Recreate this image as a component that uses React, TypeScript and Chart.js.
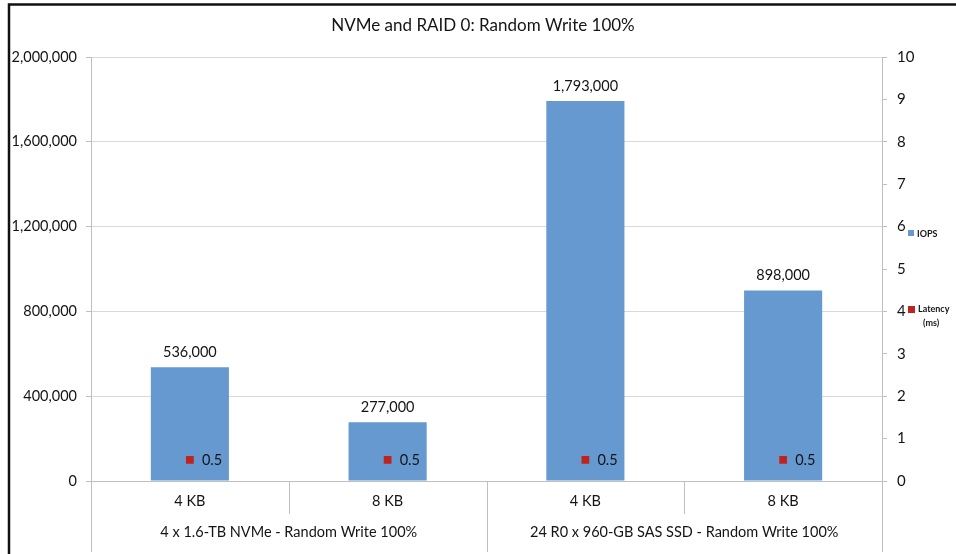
import React, { useEffect, useRef } from "react";
import { Chart, registerables } from "chart.js";

Chart.register(...registerables);

const titleText = "NVMe and RAID 0: Random Write 100%";
const blockSizes = ["4 KB", "8 KB", "4 KB", "8 KB"];
const groupLabels = ["4 x 1.6-TB NVMe - Random Write 100%", "24 R0 x 960-GB SAS SSD - Random Write 100%"];
const iopsValues = [536000, 277000, 1793000, 898000];
const latencyValues = [0.5, 0.5, 0.5, 0.5];
const iopsTicks = [0, 400000, 800000, 1200000, 1600000, 2000000];
const latencyTicks = [0, 1, 2, 3, 4, 5, 6, 7, 8, 9, 10];

const FONT = "Lato, 'Open Sans', sans-serif";
const TEXT = "#141414";
const BLUE = "#6699d0";
const RED = "#c0231e";
const AXIS = "#bfbfbf";

const fmt = (v: number) => v.toLocaleString("en-US");

const decorPlugin = {
  id: "decor",
  beforeDraw(chart: any) {
    const ctx = chart.ctx;
    ctx.save();
    ctx.fillStyle = "#fff";
    ctx.fillRect(0, 0, chart.width, chart.height);
    ctx.restore();
  },
  afterDraw(chart: any) {
    const ctx = chart.ctx;
    const area = chart.chartArea;
    ctx.save();
    // frame
    ctx.strokeStyle = "#111";
    ctx.lineWidth = 2.5;
    ctx.strokeRect(9, 4.5, 1000, 600);
    // title
    ctx.fillStyle = TEXT;
    ctx.font = `17px ${FONT}`;
    ctx.textAlign = "center";
    ctx.textBaseline = "middle";
    ctx.fillText(titleText, 483, 26);

    // category separators
    ctx.strokeStyle = AXIS;
    ctx.lineWidth = 1;
    const n = blockSizes.length;
    const step = (area.right - area.left) / n;
    for (let i = 0; i <= n; i++) {
      const x = Math.round(area.left + step * i) + 0.5;
      const long = i % 2 === 0;
      ctx.beginPath();
      ctx.moveTo(x, area.bottom);
      ctx.lineTo(x, long ? 552 : 514);
      ctx.stroke();
    }
    // group labels
    ctx.fillStyle = TEXT;
    ctx.font = `14.5px ${FONT}`;
    ctx.textAlign = "center";
    ctx.textBaseline = "middle";
    groupLabels.forEach((g, gi) => {
      const cx = area.left + step * (gi * 2 + 1);
      ctx.fillText(g, cx, 532);
    });

    // bar value labels
    const barMeta = chart.getDatasetMeta(0);
    ctx.font = `14.5px ${FONT}`;
    ctx.textBaseline = "middle";
    barMeta.data.forEach((el: any, i: number) => {
      ctx.fillText(fmt(iopsValues[i]), el.x, el.y - 15);
    });
    // latency labels
    const ptMeta = chart.getDatasetMeta(1);
    ctx.textAlign = "left";
    ctx.font = `14.5px ${FONT}`;
    ptMeta.data.forEach((el: any, i: number) => {
      ctx.fillText(String(latencyValues[i]), el.x + 12, el.y + 1);
    });

    // legend
    ctx.fillStyle = BLUE;
    ctx.fillRect(908, 230, 6, 6);
    ctx.fillStyle = RED;
    ctx.fillRect(908, 306, 7, 7);
    ctx.fillStyle = TEXT;
    ctx.font = `bold 9px ${FONT}`;
    ctx.textAlign = "left";
    ctx.fillText("IOPS", 917, 234);
    ctx.fillText("Latency", 918, 309);
    ctx.fillText("(ms)", 923, 323);
    ctx.restore();
  },
};

export default function App() {
  const ref = useRef<HTMLCanvasElement | null>(null);
  useEffect(() => {
    document.body.style.margin = "0";
    const canvas = ref.current!;
    const chart = new Chart(canvas, {
      type: "bar",
      data: {
        labels: blockSizes,
        datasets: [
          {
            type: "bar",
            label: "IOPS",
            data: iopsValues,
            backgroundColor: BLUE,
            yAxisID: "y",
            categoryPercentage: 1,
            barPercentage: 0.395,
            order: 2,
          },
          {
            type: "line",
            label: "Latency (ms)",
            data: latencyValues,
            yAxisID: "y1",
            showLine: false,
            pointStyle: "rect",
            pointRadius: 5.5,
            pointBackgroundColor: RED,
            pointBorderColor: RED,
            pointBorderWidth: 0,
            order: 1,
          } as any,
        ],
      },
      options: {
        responsive: false,
        animation: false,
        devicePixelRatio: 1,
        layout: { padding: { top: 57, left: 0, right: 0, bottom: 0 } },
        plugins: {
          legend: { display: false },
          tooltip: { enabled: false },
          title: { display: false },
        },
        scales: {
          x: {
            grid: { display: false, drawTicks: false },
            border: { display: true, color: AXIS },
            ticks: { color: TEXT, font: { family: FONT, size: 14.5 }, padding: 12, maxRotation: 0 },
            afterFit: (s: any) => { s.height = 73; },
          },
          y: {
            position: "left",
            min: 0,
            max: 2000000,
            afterBuildTicks: (s: any) => { s.ticks = iopsTicks.map((v) => ({ value: v })); },
            grid: { color: "#d9d9d9", tickLength: 5, tickColor: AXIS },
            border: { display: true, color: AXIS },
            ticks: {
              color: TEXT,
              font: { family: FONT, size: 14.5 },
              padding: 9,
              callback: (v: any) => fmt(Number(v)),
            },
            afterFit: (s: any) => { s.width = 91; },
          },
          y1: {
            position: "right",
            min: 0,
            max: 10,
            afterBuildTicks: (s: any) => { s.ticks = latencyTicks.map((v) => ({ value: v })); },
            grid: { drawOnChartArea: false, tickLength: 5, tickColor: AXIS },
            border: { display: true, color: AXIS },
            ticks: { color: TEXT, font: { family: FONT, size: 15 }, padding: 10 },
            afterFit: (s: any) => { s.width = 74; },
          },
        },
      },
      plugins: [decorPlugin],
    });
    return () => chart.destroy();
  }, []);
  return (
    <div style={{ position: "relative", width: 956, height: 554 }}>
      <canvas ref={ref} width={956} height={554} style={{ display: "block" }} />
    </div>
  );
}
